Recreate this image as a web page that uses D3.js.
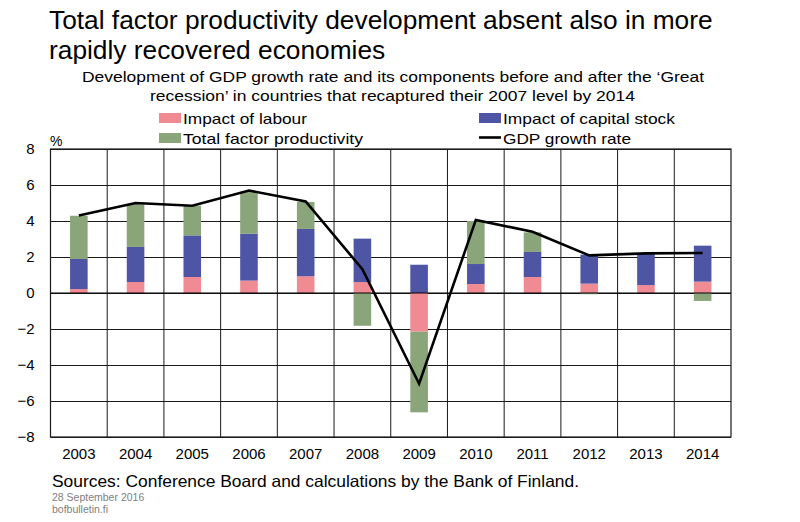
<!DOCTYPE html>
<html>
<head>
<meta charset="utf-8">
<script src="https://cdn.jsdelivr.net/npm/d3@7"></script>
<style>
  body { margin: 0; background: #fff; }
  svg { font-family: "Liberation Sans", Arial, sans-serif; }
</style>
</head>
<body>
<svg id="drawing_region"></svg>
<script>
// values
const years = ['2003','2004','2005','2006','2007','2008','2009','2010','2011','2012','2013','2014'];
const labour  = [0.22, 0.61, 0.89, 0.69, 0.93, 0.61, -2.15, 0.50, 0.89, 0.52, 0.44, 0.63];
const capital = [1.67, 1.95, 2.31, 2.61, 2.63, 2.41, 1.57, 1.11, 1.39, 1.61, 1.75, 2.00];
const tfp     = [2.40, 2.38, 1.65, 2.33, 1.50, -1.82, -4.48, 2.39, 1.09, -0.07, 0.00, -0.44];
const gdp     = [4.30, 5.00, 4.85, 5.69, 5.09, 1.32, -5.04, 4.06, 3.40, 2.09, 2.20, 2.22];
const yTicks  = [-8, -6, -4, -2, 0, 2, 4, 6, 8];

const seriesKeys = ['labour', 'capital', 'tfp'];
const seriesNames = {labour: 'Impact of labour', capital: 'Impact of capital stock', tfp: 'Total factor productivity'};
const colors = {labour: '#f08b93', capital: '#4f55a5', tfp: '#8aa57a'};

const data = years.map((y, i) => ({year: y, labour: labour[i], capital: capital[i], tfp: tfp[i], gdp: gdp[i]}));

const width = 800, height = 522;
const margin = {top: 149, right: 69, bottom: 85, left: 50.5};
const inner_width = width - margin.left - margin.right;
const inner_height = height - margin.top - margin.bottom;

const svg = d3.select('#drawing_region')
    .attr('width', width)
    .attr('height', height);

const chart = svg.append('g')
    .attr('transform', `translate(${margin.left}, ${margin.top})`);

const xscale = d3.scaleBand()
    .domain(years)
    .range([0, inner_width])
    .paddingInner(0.69)
    .paddingOuter(0.345);

const yscale = d3.scaleLinear()
    .domain([-8, 8])
    .range([inner_height, 0]);

// horizontal grid + y labels
const yaxis_group = chart.append('g')
    .call(d3.axisLeft(yscale).tickValues(yTicks).tickSize(-inner_width).tickPadding(16).tickFormat(d3.format('d')));
yaxis_group.select('.domain').remove();
yaxis_group.selectAll('line').attr('stroke', '#1a1a1a').attr('stroke-width', 1);
yaxis_group.selectAll('text').attr('font-size', '15px').attr('fill', '#000');

// vertical grid at band edges
const gap = (xscale.step() - xscale.bandwidth()) / 2;
chart.append('g')
    .selectAll('line')
    .data(years.slice(1))
    .join('line')
    .attr('x1', d => xscale(d) - gap)
    .attr('x2', d => xscale(d) - gap)
    .attr('y1', 0)
    .attr('y2', inner_height)
    .attr('stroke', '#1a1a1a')
    .attr('stroke-width', 1);

// x labels
const xaxis_group = chart.append('g')
    .attr('transform', `translate(0, ${inner_height})`)
    .call(d3.axisBottom(xscale).tickSize(0).tickPadding(11));
xaxis_group.select('.domain').remove();
xaxis_group.selectAll('text').attr('font-size', '15px').attr('fill', '#000');

// stacked bars
const stack = d3.stack()
    .keys(seriesKeys)
    .offset(d3.stackOffsetDiverging);
const stacked = stack(data);

chart.append('g')
    .selectAll('g')
    .data(stacked)
    .join('g')
    .attr('fill', d => colors[d.key])
    .selectAll('rect')
    .data(d => d)
    .join('rect')
    .attr('x', d => xscale(d.data.year))
    .attr('width', xscale.bandwidth())
    .attr('y', d => yscale(Math.max(d[0], d[1])))
    .attr('height', d => Math.abs(yscale(d[0]) - yscale(d[1])));

// plot border
chart.append('rect')
    .attr('width', inner_width)
    .attr('height', inner_height)
    .attr('fill', 'none')
    .attr('stroke', '#1a1a1a')
    .attr('stroke-width', 1.2);

// zero line on top
chart.append('line')
    .attr('x1', 0).attr('x2', inner_width)
    .attr('y1', yscale(0)).attr('y2', yscale(0))
    .attr('stroke', '#000').attr('stroke-width', 1.2);

// GDP line
const line = d3.line()
    .x(d => xscale(d.year) + xscale.bandwidth() / 2)
    .y(d => yscale(d.gdp));

chart.append('path')
    .attr('d', line(data))
    .attr('fill', 'none')
    .attr('stroke', '#000')
    .attr('stroke-width', 2.6);

// titles
svg.append('text')
    .attr('x', 49).attr('y', 29)
    .attr('font-size', '26.3px')
    .text('Total factor productivity development absent also in more');
svg.append('text')
    .attr('x', 49).attr('y', 59)
    .attr('font-size', '26.3px')
    .text('rapidly recovered economies');

svg.append('text')
    .attr('x', 82).attr('y', 82)
    .attr('font-size', '15.5px')
    .attr('textLength', 622).attr('lengthAdjust', 'spacingAndGlyphs')
    .text('Development of GDP growth rate and its components before and after the \u2018Great');
svg.append('text')
    .attr('x', 150).attr('y', 100.5)
    .attr('font-size', '15.5px')
    .attr('textLength', 485).attr('lengthAdjust', 'spacingAndGlyphs')
    .text('recession\u2019 in countries that recaptured their 2007 level by 2014');

// legend
const legend = svg.append('g').attr('font-size', '15px');
const legendItems = [
    {key: 'labour', x: 159, y: 113, len: 124},
    {key: 'capital', x: 479, y: 113, len: 172},
    {key: 'tfp', x: 159, y: 133, len: 180},
    {key: 'gdp', x: 479, y: 133, len: 128}
];
legendItems.forEach(it => {
    if (it.key === 'gdp') {
        legend.append('line')
            .attr('x1', it.x).attr('x2', it.x + 22)
            .attr('y1', it.y + 4.5).attr('y2', it.y + 4.5)
            .attr('stroke', '#000').attr('stroke-width', 2.6);
    } else {
        legend.append('rect')
            .attr('x', it.x).attr('y', it.y)
            .attr('width', 22).attr('height', 10)
            .attr('fill', colors[it.key]);
    }
    legend.append('text')
        .attr('x', it.x + 24).attr('y', it.y + 11)
        .attr('textLength', it.len).attr('lengthAdjust', 'spacingAndGlyphs')
        .text(it.key === 'gdp' ? 'GDP growth rate' : seriesNames[it.key]);
});

svg.append('text')
    .attr('x', 50).attr('y', 146)
    .attr('font-size', '14px')
    .text('%');

// footer
svg.append('text')
    .attr('x', 52).attr('y', 487)
    .attr('font-size', '16.5px')
    .attr('textLength', 527).attr('lengthAdjust', 'spacingAndGlyphs')
    .text('Sources: Conference Board and calculations by the Bank of Finland.');
svg.append('text')
    .attr('x', 52).attr('y', 500.5)
    .attr('font-size', '10.5px')
    .attr('fill', '#808080')
    .text('28 September 2016');
svg.append('text')
    .attr('x', 52).attr('y', 513)
    .attr('font-size', '10.5px')
    .attr('fill', '#808080')
    .text('bofbulletin.fi');
</script>
</body>
</html>
